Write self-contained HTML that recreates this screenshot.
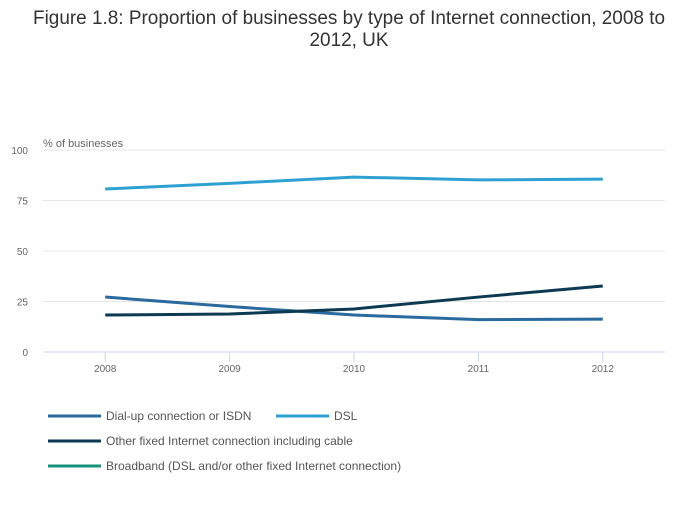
<!DOCTYPE html>
<html><head><meta charset="utf-8"><style>
body{margin:0;background:#fff;width:700px;height:502px;overflow:hidden;font-family:"Liberation Sans",sans-serif}
</style></head><body>
<svg id="chart" width="700" height="502" xmlns="http://www.w3.org/2000/svg">
<text x="349" y="24" text-anchor="middle" font-size="19" fill="#333" textLength="632" lengthAdjust="spacingAndGlyphs" font-family="Liberation Sans Narrow, Liberation Sans, sans-serif">Figure 1.8: Proportion of businesses by type of Internet connection, 2008 to</text>
<text x="349" y="46" text-anchor="middle" font-size="19" fill="#333" textLength="79" lengthAdjust="spacingAndGlyphs" font-family="Liberation Sans Narrow, Liberation Sans, sans-serif">2012, UK</text>
<text x="43" y="147" font-size="11" fill="#666">% of businesses</text>
<g id="grid"></g><g id="lines"></g><g id="legend"></g>
</svg>
<script>
const categories=["2008","2009","2010","2011","2012"];
const yTicks=[0,25,50,75,100];
const dialup=[27.2,22.5,18.3,16.0,16.3];
const dsl=[80.7,83.5,86.6,85.2,85.6];
const other=[18.3,18.8,21.3,27.2,32.7];
const seriesNames=["Dial-up connection or ISDN","DSL","Other fixed Internet connection including cable","Broadband (DSL and/or other fixed Internet connection)"];
const NS="http://www.w3.org/2000/svg";
const x0=43,x1=665,yB=352,yT=150;
function xs(i){return x0+(x1-x0)/categories.length*(i+0.5);}
function ys(v){return yB-(yB-yT)*v/100;}
function mk(t,a,p){const e=document.createElementNS(NS,t);for(const k in a)e.setAttribute(k,a[k]);p.appendChild(e);return e;}
const grid=document.getElementById('grid');
yTicks.forEach(v=>{
  const l=mk('line',{x1:x0,x2:x1,y1:ys(v),y2:ys(v),stroke:v===0?'#ccd6eb':'#e6e6e6','stroke-width':1},grid);
  
  
  const t=mk('text',{x:28,y:ys(v)+4,'text-anchor':'end','font-size':10,fill:'#666'},grid);
  t.textContent=v;
  
  
});
categories.forEach((c,i)=>{
  const l=mk('line',{x1:xs(i),x2:xs(i),y1:yB,y2:yB+10,stroke:'#ccd6eb'},grid);
  
  
  const t=mk('text',{x:xs(i),y:yB+20,'text-anchor':'middle','font-size':10,fill:'#666'},grid);
  t.textContent=c;
  
  
});
const lines=document.getElementById('lines');
const series=[[dialup,'#2a6a9e','dialup-line'],[dsl,'#2ea1d3','dsl-line'],[other,'#0b3a52','other-fixed-line']];
series.forEach(([d,col,name])=>{
  const p=mk('path',{d:d.map((v,i)=>(i?'L':'M')+xs(i)+','+ys(v)).join(''),fill:'none',stroke:col,'stroke-width':3,'stroke-linejoin':'round'},lines);
  
  
});
const leg=document.getElementById('legend');
const legItems=[[48,416,'#2a6a9e'],[276,416,'#2ea1d3'],[48,441,'#0b3a52'],[48,466,'#17907c']];
legItems.forEach(([x,y,col],i)=>{
  const g=mk('g',{},leg);
  
  
  mk('line',{x1:x,x2:x+53,y1:y,y2:y,stroke:col,'stroke-width':3},g);
  const t=mk('text',{x:x+58,y:y+4,'font-size':12,fill:'#555'},g);
  t.textContent=seriesNames[i];
});
</script>
</body></html>
